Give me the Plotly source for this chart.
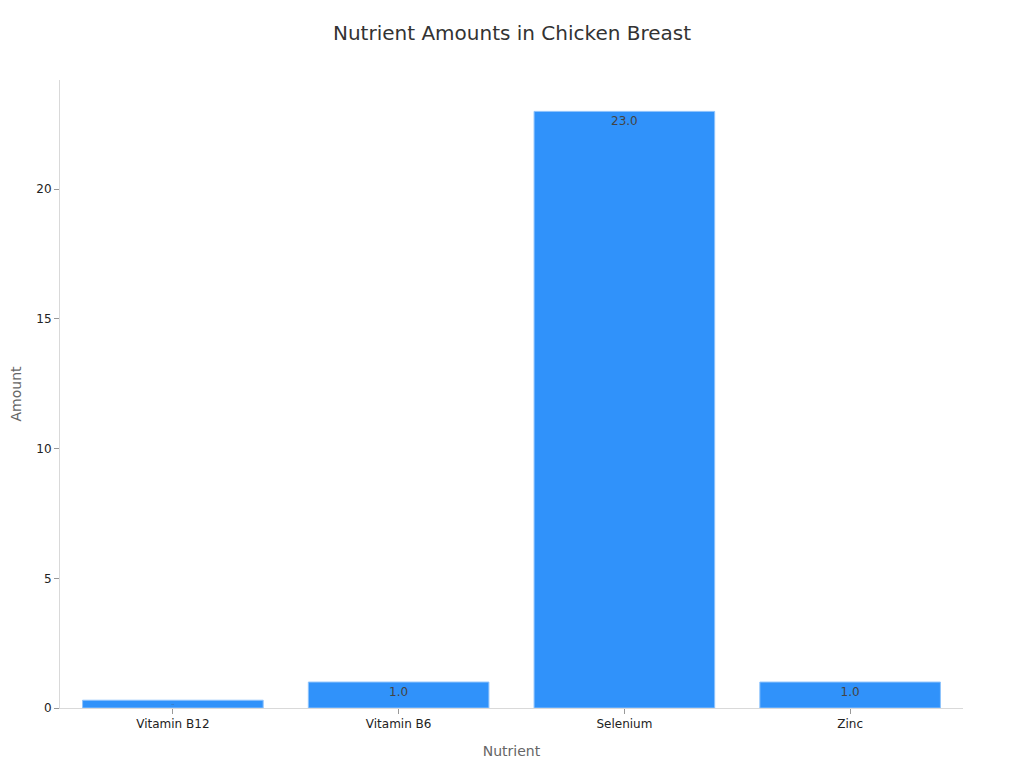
import plotly.graph_objects as go

# Data
nutrients = ["Vitamin B12", "Vitamin B6", "Selenium", "Zinc"]
amounts = [0.3, 1.0, 23.0, 1.0]

fig = go.Figure()

fig.add_trace(go.Bar(
    x=nutrients,
    y=amounts,
    marker=dict(color="#3092FA", line=dict(color="#8EC3FC", width=1)),
    texttemplate="%{y:.1f}",
    textposition="inside",
    insidetextanchor="end",
    textfont=dict(color="#444444", size=12),
))

# page body has an 8px margin, so size the figure to fit inside the window
fig.update_layout(
    title=dict(text="Nutrient Amounts in Chicken Breast", x=0.5, y=0.967,
               xanchor="center", yanchor="middle",
               font=dict(size=20, color="#333333")),
    width=1008,
    height=752,
    margin=dict(l=52, r=53, t=72, b=52),
    plot_bgcolor="white",
    paper_bgcolor="white",
    font=dict(family="DejaVu Sans", color="#333333"),
    bargap=0.2,
    showlegend=False,
)

fig.update_xaxes(
    title=dict(text="Nutrient", font=dict(size=14, color="#666666")),
    automargin=False,
    showline=True, linecolor="#D9D9D9", ticks="outside",
    tickcolor="#999999", ticklen=5, tickfont=dict(size=12, color="#222222"),
)
fig.update_yaxes(
    title=dict(text="Amount", font=dict(size=14, color="#666666"), standoff=14),
    automargin=False,
    showline=True, linecolor="#D9D9D9", ticks="outside",
    tickcolor="#999999", ticklen=5, showgrid=False, zeroline=False,
    tickfont=dict(size=12, color="#222222"),
)

fig.write_html("out.html")
